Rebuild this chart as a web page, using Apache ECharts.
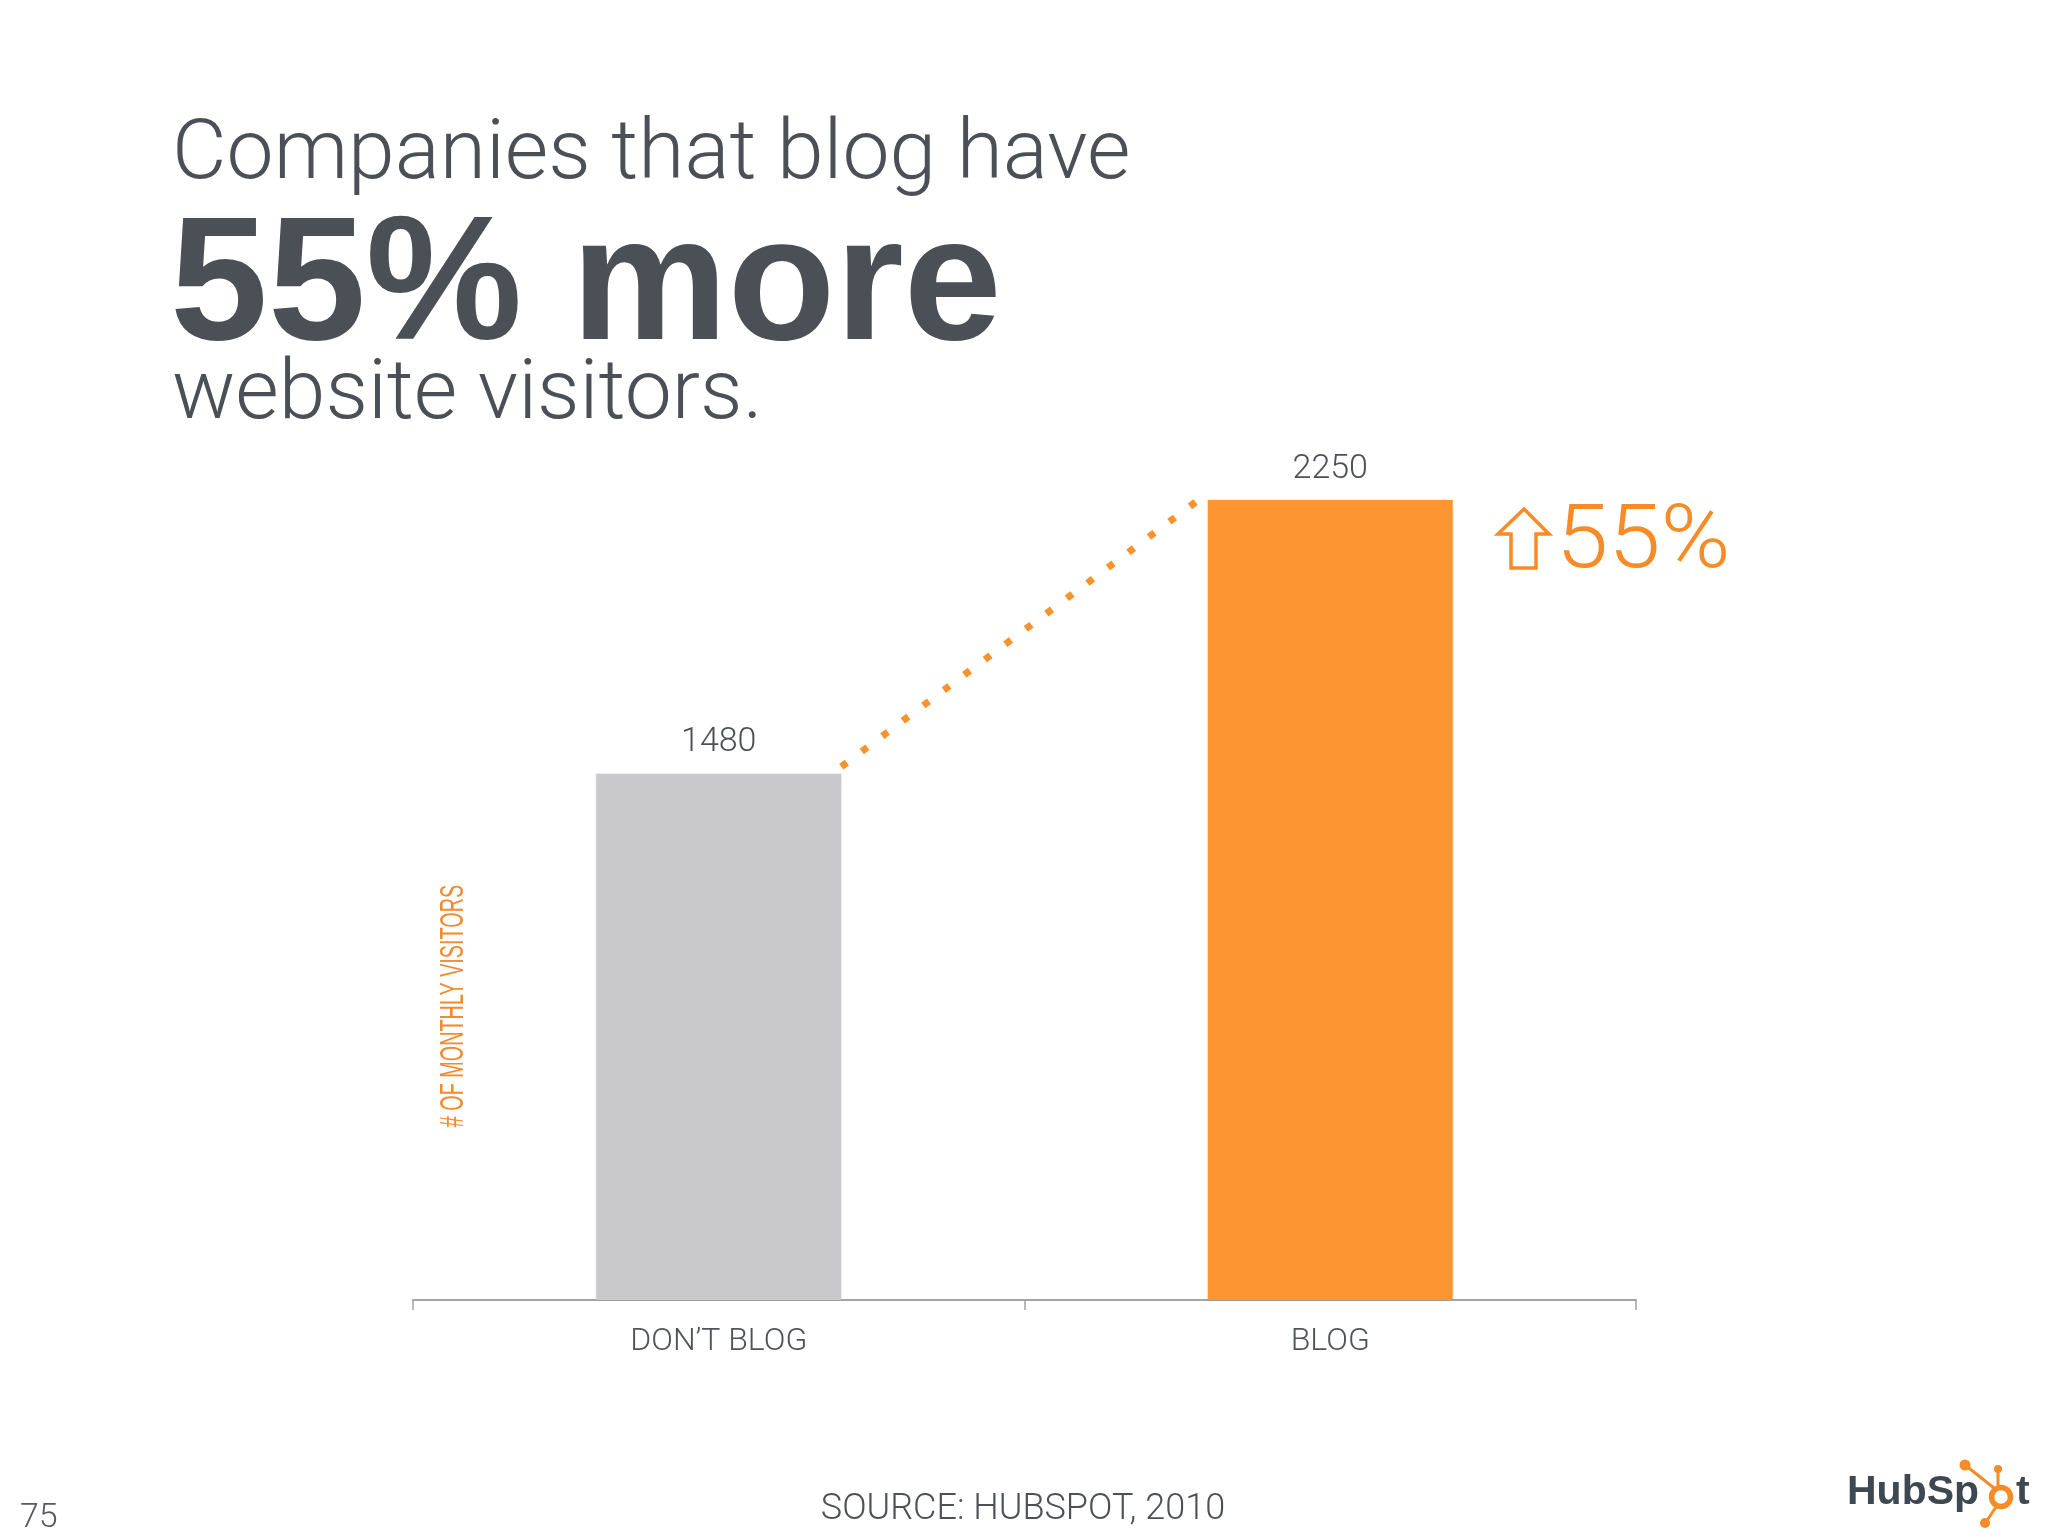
<!DOCTYPE html>
<html>
<head>
<meta charset="utf-8">
<style>html,body{margin:0;padding:0;background:#fff;}#c{width:2048px;height:1536px;}</style>
<script src="https://cdn.jsdelivr.net/npm/echarts@6/dist/echarts.min.js"></script>
</head>
<body>
<div id="c"></div>
<script>
// ---- data ----
const categories = ['DON\u2019T BLOG', 'BLOG'];
const visitors = [1480, 2250];
const increaseLabel = '55%';
const headline = ['Companies that blog have', '55% more', 'website visitors.'];
const yAxisName = '# OF MONTHLY VISITORS';
const sourceText = 'SOURCE: HUBSPOT, 2010';
const pageNumber = '75';

// ---- style ----
const barColors = ['#c9c8cb', '#fd9530'];
const orange = '#f68b27';
const dark = '#4b5057';
const barWidth = 245;
const light = 'Roboto, "Liberation Sans", sans-serif';

const chart = echarts.init(document.getElementById('c'), null, {renderer: 'canvas'});

function txt(text, x, y, font, fill, extra, el) {
  return Object.assign({
    type: 'text', x: x, y: y, silent: true,
    style: Object.assign({text: text, font: font, fill: fill,
      textAlign: 'left', textVerticalAlign: 'middle', align: 'left', verticalAlign: 'middle'}, extra || {})
  }, el || {});
}

const option = {
  backgroundColor: '#ffffff',
  animation: false,
  grid: {left: 413, right: 412, top: 500, bottom: 236},
  xAxis: {
    type: 'category',
    data: categories,
    axisLine: {lineStyle: {color: '#a3a3a6', width: 2}},
    axisTick: {show: true, length: 10, lineStyle: {color: '#a3a3a6', width: 1.5}},
    axisLabel: {fontFamily: light, fontWeight: 300, fontSize: 32, color: '#505358', margin: 26}
  },
  yAxis: {
    type: 'value', min: 0, max: 2250, show: false,
    splitLine: {show: false}
  },
  series: [
    {
      type: 'bar',
      barWidth: barWidth,
      data: visitors.map((v, i) => ({value: v, itemStyle: {color: barColors[i]}})),
      itemStyle: {shadowColor: 'rgba(0,0,0,0.12)', shadowBlur: 3},
      label: {show: true, position: 'top', distance: 14, fontFamily: light, fontWeight: 300,
        fontSize: 34, color: '#4d5055'},
      z: 2
    },
    {
      type: 'custom',
      encode: {x: [0, 2], y: [1, 3]},
      data: [[0, visitors[0], 1, visitors[1]]],
      renderItem: function (params, api) {
        const p0 = api.coord([api.value(0), api.value(1)]);
        const p1 = api.coord([api.value(2), api.value(3)]);
        const half = barWidth / 2;
        return {
          type: 'line',
          shape: {x1: p0[0] + half, y1: p0[1] - 7, x2: p1[0] - half, y2: p1[1] - 7},
          style: {stroke: '#f7922c', lineWidth: 7, lineDash: [7, 18.6], lineCap: 'butt'}
        };
      },
      z: 3
    }
  ],
  graphic: [
    txt(headline[0], 172, 157, '300 84px ' + light, dark),
    txt(headline[1], 170, 290, 'bold 176px "Liberation Sans", Arial, sans-serif', dark),
    txt(headline[2], 172, 397, '300 84px ' + light, dark),
    // up arrow outline
    {type: 'polygon', silent: true,
      shape: {points: [[1524, 509], [1549, 534], [1536, 534], [1536, 568], [1511, 568], [1511, 534], [1498, 534]]},
      style: {fill: 'none', stroke: orange, lineWidth: 3.5, lineJoin: 'miter'}},
    txt(increaseLabel, 1556, 545, '300 89px ' + light, orange, null, {scaleX: 1.06}),
    // y axis name (rotated, condensed)
    {type: 'text', x: 454, y: 1006, rotation: Math.PI / 2, scaleX: 0.6, silent: true,
      style: {text: yAxisName, font: '33px "Liberation Sans", Arial, sans-serif', fill: '#f28a2e',
        textAlign: 'center', textVerticalAlign: 'middle', align: 'center', verticalAlign: 'middle'}},
    txt(sourceText, 1023, 1510, '300 36px ' + light, '#4d5055', {textAlign: 'center', align: 'center'}),
    txt(pageNumber, 20, 1518, '300 34px ' + light, '#555a5e'),
    // HubSpot logo
    txt('HubSp', 1847, 1493, 'bold 41px "Liberation Sans", Arial, sans-serif', '#3d4850'),
    txt('t', 2016, 1493, 'bold 41px "Liberation Sans", Arial, sans-serif', '#3d4850'),
    {type: 'line', silent: true, shape: {x1: 1965, y1: 1465, x2: 1994, y2: 1488}, style: {stroke: orange, lineWidth: 3}},
    {type: 'line', silent: true, shape: {x1: 1998, y1: 1470, x2: 1998, y2: 1487}, style: {stroke: orange, lineWidth: 3}},
    {type: 'line', silent: true, shape: {x1: 1986, y1: 1522, x2: 1996, y2: 1507}, style: {stroke: orange, lineWidth: 3}},
    {type: 'circle', silent: true, shape: {cx: 2001, cy: 1497, r: 9.5}, style: {fill: 'none', stroke: orange, lineWidth: 5.5}},
    {type: 'circle', silent: true, shape: {cx: 1965, cy: 1465, r: 5.5}, style: {fill: orange}},
    {type: 'circle', silent: true, shape: {cx: 1998, cy: 1469, r: 4}, style: {fill: orange}},
    {type: 'circle', silent: true, shape: {cx: 1985, cy: 1523, r: 5}, style: {fill: orange}}
  ]
};
chart.setOption(option);
</script>
</body>
</html>
